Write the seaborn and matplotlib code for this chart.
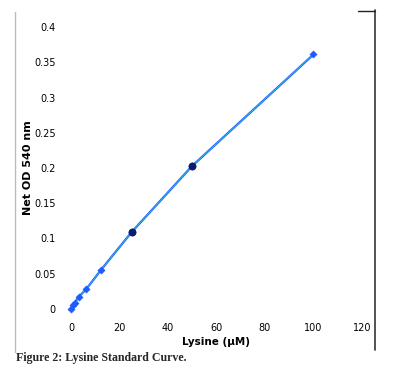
import numpy as np
import pandas as pd
import matplotlib.pyplot as plt
import seaborn as sns
from matplotlib.lines import Line2D

# data
lysine = [0, 0.78, 1.56, 3.125, 6.25, 12.5, 25, 50, 100]
net_od = [0.0, 0.006, 0.009, 0.017, 0.028, 0.056, 0.109, 0.203, 0.361]
dark_x = [25, 50]
dark_y = [0.109, 0.203]
x_ticks = [0, 20, 40, 60, 80, 100, 120]
y_ticks = [0, 0.05, 0.1, 0.15, 0.2, 0.25, 0.3, 0.35, 0.4]

df = pd.DataFrame({"x": lysine, "y": net_od})

sns.set_style("white")
plt.rcParams["font.family"] = ["DejaVu Sans"]

fig = plt.figure(figsize=(3.97, 3.76), dpi=100)
ax = fig.add_axes([71 / 397, 67 / 376, 291 / 397, 282 / 376])

# trend line + points
sns.lineplot(data=df, x="x", y="y", color="#1a55e8", lw=1.6, ax=ax, clip_on=False)
ax.plot(lysine, net_od, color="#33c3ff", lw=0.6, clip_on=False)
sns.scatterplot(data=df, x="x", y="y", marker="D", s=14, color="#1f5cff",
                edgecolor="#1f5cff", ax=ax, clip_on=False, zorder=5)
ax.scatter(dark_x, dark_y, s=22, color="#0a1d6b", zorder=6, clip_on=False)

ax.set_xlim(0, 120)
ax.set_ylim(0, 0.4)
ax.set_xticks(x_ticks)
ax.set_yticks(y_ticks)
ax.set_xticklabels([str(t) for t in x_ticks], fontsize=7)
ax.set_yticklabels([f"{t:g}" for t in y_ticks], fontsize=7)
ax.tick_params(axis="both", length=0, labelcolor="black")
ax.tick_params(axis="y", pad=11)
ax.tick_params(axis="x", pad=10)
for s in ax.spines.values():
    s.set_visible(False)

ax.set_xlabel("Lysine (µM)", fontsize=7.5, fontweight="bold", labelpad=3, color="black")
ax.set_ylabel("Net OD 540 nm", fontsize=8, fontweight="bold", labelpad=1, color="black")

# frame lines of the original figure box
fig.add_artist(Line2D([15 / 397, 15 / 397], [1 - 12 / 376, 1 - 352 / 376],
                      color="#bbbbbb", lw=1))
fig.add_artist(Line2D([374.5 / 397, 374.5 / 397], [1 - 10 / 376, 1 - 350 / 376],
                      color="#444444", lw=1.3))
fig.add_artist(Line2D([358 / 397, 375 / 397], [1 - 11 / 376, 1 - 11 / 376],
                      color="#222222", lw=1))

fig.text(16 / 397, 1 - 358 / 376, "Figure 2: Lysine Standard Curve.",
         family="Liberation Serif", fontweight="bold", fontsize=8.6, va="center")

fig.savefig("out.png", dpi=100)
